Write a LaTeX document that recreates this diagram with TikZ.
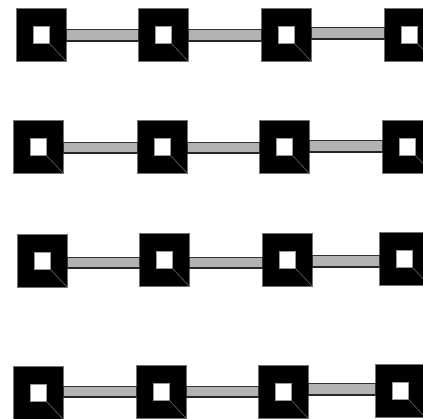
\documentclass[tikz,border=0pt]{standalone}
\begin{document}
\begin{tikzpicture}[x=1pt,y=-1pt,
  sqbox/.style={draw=black!55,line width=0.5pt,fill=black,minimum width=50pt,minimum height=53pt,inner sep=0pt,outer sep=0pt},
  hole/.style={fill=white,draw=black!40,line width=0.3pt},
  diag/.style={draw=black!60,line width=0.6pt},
  linkbar/.style={fill=black!30,draw=black!80,line width=0.7pt},
  linkbase/.style={draw=black!85,line width=1.3pt}]
\useasboundingbox (0,0) rectangle (423,418);
\clip (0,0) rectangle (423,418);
\newcommand{\sqbx}[3]{%
  \node[sqbox] (#1) at ({#2+25},{#3+26.5}) {};
  \draw[hole] ([shift={(17,18)}]#1.north west) rectangle ++(16,17);
  \draw[diag] ([shift={(33,35)}]#1.north west) -- (#1.south east);
}
\newcommand{\lnk}[4]{%
  \draw[linkbar] (#1.east |- 0,#3) rectangle (#2.west |- 0,#4);
  \draw[linkbase] (#1.east |- 0,#4) -- (#2.west |- 0,#4);
}
% row 1
\sqbx{a1}{16}{8}
\sqbx{a2}{138}{8}
\sqbx{a3}{261}{8}
\sqbx{a4}{384}{8}
\lnk{a1}{a2}{29}{41}
\lnk{a2}{a3}{29}{41}
\lnk{a3}{a4}{27}{39}
% row 2
\sqbx{b1}{13}{120}
\sqbx{b2}{137}{120}
\sqbx{b3}{259}{120}
\sqbx{b4}{382}{120}
\lnk{b1}{b2}{142}{153}
\lnk{b2}{b3}{142}{153}
\lnk{b3}{b4}{140}{152}
% row 3
\sqbx{c1}{17}{234}
\sqbx{c2}{139}{233}
\sqbx{c3}{262}{233}
\sqbx{c4}{379}{232}
\lnk{c1}{c2}{257}{268}
\lnk{c2}{c3}{257}{268}
\lnk{c3}{c4}{255}{267}
% row 4
\sqbx{d1}{13}{366}
\sqbx{d2}{136}{365}
\sqbx{d3}{258}{365}
\sqbx{d4}{375}{364}
\lnk{d1}{d2}{386}{397}
\lnk{d2}{d3}{386}{397}
\lnk{d3}{d4}{383}{395}
\end{tikzpicture}
\end{document}
